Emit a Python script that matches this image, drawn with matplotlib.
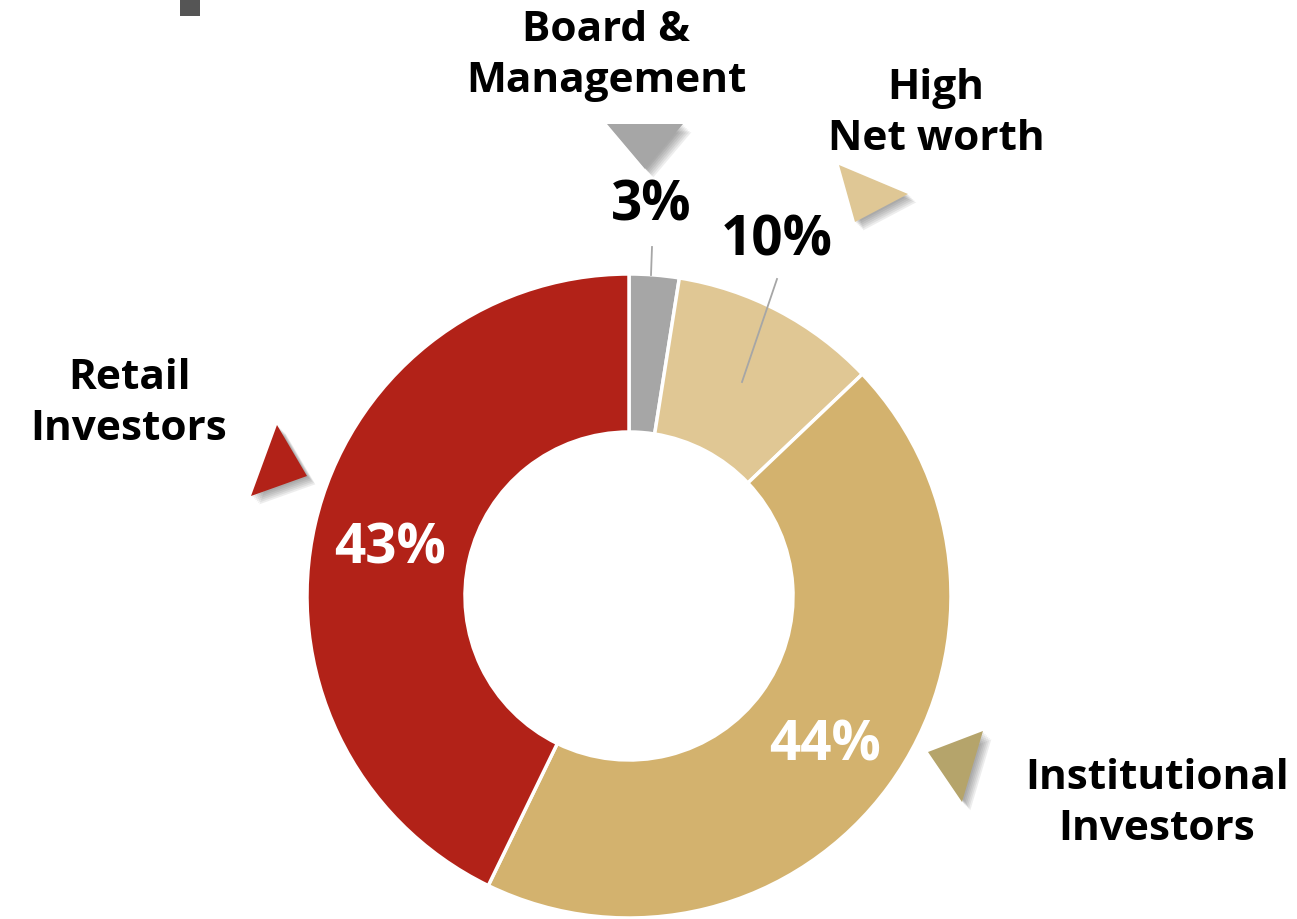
import matplotlib
matplotlib.use("Agg")
import matplotlib.pyplot as plt
import matplotlib.patheffects as pe
from matplotlib.patches import Polygon, Rectangle

plt.rcParams['font.family'] = ['Open Sans', 'DejaVu Sans']

# shares (labels show rounded numbers)
groups = ['Board &\nManagement', 'High\nNet worth', 'Institutional\nInvestors', 'Retail\nInvestors']
shares = [2.5, 10.4, 44.3, 42.8]
share_labels = ['3%', '10%', '44%', '43%']
colors = ['#a6a6a6', '#e0c794', '#d3b26e', '#b22218']
marker_colors = ['#a6a6a6', '#dfc795', '#b5a46b', '#b22218']

W, H = 1297, 920
fig = plt.figure(figsize=(W / 100, H / 100), dpi=100)
ax = fig.add_axes([0, 0, 1, 1])


def py(y):
    # pixel row (from top) -> data y
    return H - y


cx, cy, R, r = 629, 597, 322, 164
ax.pie(shares, colors=colors, startangle=90, counterclock=False,
       radius=R, center=(cx, py(cy)),
       wedgeprops=dict(width=R - r, edgecolor='white', linewidth=2.5))
ax.set_xlim(0, W)
ax.set_ylim(0, H)
ax.set_aspect('equal')
ax.axis('off')

# category names
name_pos = [(606, 56), (936, 114), (1157, 804), (129, 404)]
for name, (x, y) in zip(groups, name_pos):
    ax.text(x, py(y), name, ha='center', va='center', fontsize=30.5,
            fontweight='bold', color='black', linespacing=1.3)

# percentage labels
pct_pos = [(651, 206), (777, 241), (825, 746), (390, 549)]
pct_col = ['black', 'black', 'white', 'white']
for lab, (x, y), c in zip(share_labels, pct_pos, pct_col):
    ax.text(x, py(y), lab, ha='center', va='center', fontsize=39.5,
            fontweight='bold', color=c)

# leader lines for the small slices
ax.plot([652, 651], [py(248), py(276)], color='#a6a6a6', lw=1.3)
ax.plot([777, 742], [py(280), py(383)], color='#a6a6a6', lw=1.3)

# triangle markers with soft shadows
tris = [
    [(607, 125), (683, 125), (645, 170)],
    [(839, 166), (908, 195), (855, 223)],
    [(983, 732), (928, 753), (962, 803)],
    [(277, 426), (307, 477), (251, 497)],
]
shadow = [pe.SimplePatchShadow(offset=(k, -k), shadow_rgbFace='#404040', alpha=0.09)
          for k in range(1, 7)] + [pe.Normal()]
for pts, c in zip(tris, marker_colors):
    tri = Polygon([(x, py(y)) for x, y in pts], closed=True, facecolor=c,
                  edgecolor='none')
    tri.set_path_effects(shadow)
    ax.add_patch(tri)

# little dark square at the top left
ax.add_patch(Rectangle((180, py(17)), 20, 17, facecolor='#555555', edgecolor='none'))

fig.savefig('out.png', dpi=100)
